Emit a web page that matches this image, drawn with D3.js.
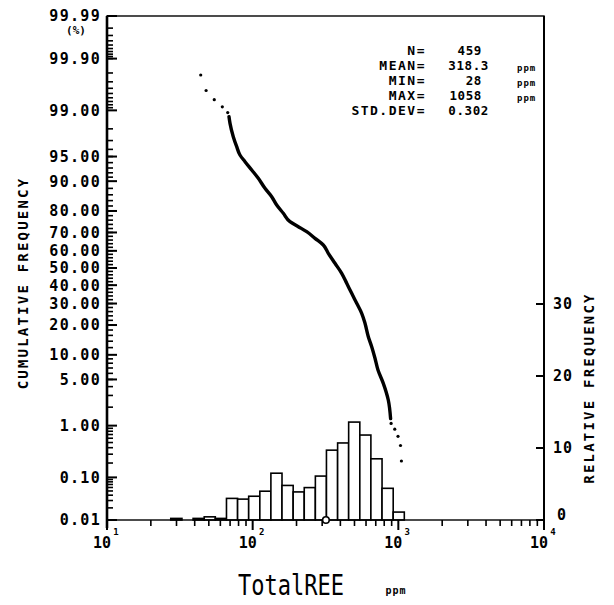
<!DOCTYPE html>
<html><head><meta charset="utf-8">
<script src="https://cdn.jsdelivr.net/npm/d3@7"></script>
<style>body{margin:0;background:#fff} svg{display:block}</style>
</head><body>
<svg id="c" width="614" height="605"></svg>
<script>
// ---------- data ----------
const binEdges = [27.4, 32.7, 39.0, 46.5, 55.4, 66.1, 78.8, 93.9, 112, 133.4, 159, 189.7, 226, 269.4, 321, 383, 456, 544, 648, 773, 922, 1099];
const relFreq  = [0.22, 0, 0.22, 0.44, 0.22, 3.0, 2.9, 3.3, 4.0, 6.5, 4.8, 3.9, 4.5, 6.1, 9.7, 10.7, 13.6, 11.8, 8.5, 4.4, 1.1];
const cumTailLow = [[44.0,99.78],[47.9,99.56],[54.5,99.35],[61.9,99.13],[67.4,98.91]];
const cumBody = [[68.8,98.72],[69.9,98.36],[73.6,97.37],[77.7,96.33],[81.8,95.23],[88.6,94.17],[98.5,92.6],[109.3,90.72],[121.5,88.02],[135.1,85.36],[146.2,82.38],[162.3,79.03],[180.4,75.28],[205.8,72.89],[234.9,70.39],[267.9,66.94],[305.4,63.29],[330.5,58.59],[367.4,52.77],[408.5,46.88],[442.2,41.07],[478.4,35.44],[517.9,30.12],[560.4,25.19],[590.4,20.72],[622.1,15.53],[656.4,12.27],[691.6,9.13],[725,6.61],[788.5,4.44],[853.1,2.57],[885,1.31]];
const cumTailHigh = [[892,1.09],[945,0.87],[995,0.65],[1035,0.44],[1050,0.22]];
const cumTicks = [0.01,0.1,1,5,10,20,30,40,50,60,70,80,90,95,99,99.9,99.99];
const cumTickLabels = ["0.01","0.10","1.00","5.00","10.00","20.00","30.00","40.00","50.00","60.00","70.00","80.00","90.00","95.00","99.00","99.90","99.99"];
const relTicks = [0,10,20,30];
const relTickLabels = ["0","10","20","30"];
const xDecades = [10,100,1000,10000];
const xDecadeExp = ["1","2","3","4"];
const statLabels = ["N=","MEAN=","MIN=","MAX=","STD.DEV="];
const statValues = ["459","318.3","28","1058","0.302"];
const statUnits  = ["","ppm","ppm","ppm",""];
const meanValue = 318.3;

// ---------- helpers ----------
function probit(p){
 const a=[-3.969683028665376e+01,2.209460984245205e+02,-2.759285104469687e+02,1.383577518672690e+02,-3.066479806614716e+01,2.506628277459239e+00];
 const b=[-5.447609879822406e+01,1.615858368580409e+02,-1.556989798598866e+02,6.680131188771972e+01,-1.328068155288572e+01];
 const c=[-7.784894002430293e-03,-3.223964580411365e-01,-2.400758277161838e+00,-2.549732539343734e+00,4.374664141464968e+00,2.938163982698783e+00];
 const d=[7.784695709041462e-03,3.224671290700398e-01,2.445134137142996e+00,3.754408661907416e+00];
 const pl=0.02425, ph=1-pl; let q,r;
 if(p<pl){q=Math.sqrt(-2*Math.log(p));return (((((c[0]*q+c[1])*q+c[2])*q+c[3])*q+c[4])*q+c[5])/((((d[0]*q+d[1])*q+d[2])*q+d[3])*q+1);}
 if(p<=ph){q=p-0.5;r=q*q;return (((((a[0]*r+a[1])*r+a[2])*r+a[3])*r+a[4])*r+a[5])*q/(((((b[0]*r+b[1])*r+b[2])*r+b[3])*r+b[4])*r+1);}
 q=Math.sqrt(-2*Math.log(1-p));return -(((((c[0]*q+c[1])*q+c[2])*q+c[3])*q+c[4])*q+c[5])/((((d[0]*q+d[1])*q+d[2])*q+d[3])*q+1);
}

const L=107, R=544, T=16, B=520;
const svg = d3.select("#c");
const x = d3.scaleLog().domain([10,10000]).range([L,R]);
const yZ = d3.scaleLinear().domain([probit(0.0001), probit(0.9999)]).range([B,T]);
const yCum = p => yZ(probit(p/100));
const yRel = d3.scaleLinear().domain([0,70]).range([B,T]);

const mono = "'DejaVu Sans Mono', 'Liberation Mono', monospace";

// ---------- histogram ----------
svg.append("g").selectAll("rect").data(relFreq.map((v,i)=>({v,x0:binEdges[i],x1:binEdges[i+1]})).filter(d=>d.v>0))
 .join("rect")
 .attr("x",d=>x(d.x0)).attr("width",d=>x(d.x1)-x(d.x0))
 .attr("y",d=>yRel(d.v)).attr("height",d=>B-yRel(d.v))
 .attr("fill","#fff").attr("stroke","#000").attr("stroke-width",1.6);

// ---------- frame ----------
svg.append("rect").attr("x",L).attr("y",T).attr("width",R-L).attr("height",B-T)
 .attr("fill","none").attr("stroke","#000").attr("stroke-width",1.4);
svg.append("line").attr("x1",L).attr("x2",L).attr("y1",T).attr("y2",B+8).attr("stroke","#000").attr("stroke-width",2.6);
svg.append("line").attr("x1",R).attr("x2",R).attr("y1",T).attr("y2",B+8).attr("stroke","#000").attr("stroke-width",2);

// ---------- left axis (probability) ----------
const minorCum = [].concat(
  d3.range(2,10).map(k=>k/100), d3.range(2,10).map(k=>k/10), d3.range(2,10),
  d3.range(12,90,2), d3.range(91,99), d3.range(1,10).map(k=>99+k/10), d3.range(1,10).map(k=>99.9+k/100));
const gl = svg.append("g");
gl.selectAll("rect.mi").data(minorCum).join("rect").attr("class","mi")
 .attr("x",L).attr("y",d=>yCum(d)-0.8).attr("width",6).attr("height",1.6).attr("fill","#000");
gl.selectAll("rect.ma").data(cumTicks).join("rect").attr("class","ma")
 .attr("x",L).attr("y",d=>yCum(d)-1).attr("width",10).attr("height",2).attr("fill","#000");
svg.append("g").selectAll("text").data(cumTicks).join("text")
 .attr("x",101).attr("y",d=>yCum(d)).attr("dy","0.36em").attr("text-anchor","end")
 .attr("font-family",mono).attr("font-weight","bold").attr("font-size",15).attr("letter-spacing",1.3)
 .text((d,i)=>cumTickLabels[i]);
svg.append("text").attr("x",76).attr("y",30).attr("dy","0.36em").attr("text-anchor","middle")
 .attr("font-family",mono).attr("font-weight","bold").attr("font-size",11).text("(%)");
svg.append("text").attr("transform","translate(28,283) rotate(-90)").attr("text-anchor","middle")
 .attr("font-family",mono).attr("font-weight","bold").attr("font-size",14).attr("letter-spacing",2.2)
 .text("CUMULATIVE FREQUENCY");

// ---------- right axis ----------
const gr = svg.append("g");
gr.selectAll("rect").data(relTicks).join("rect")
 .attr("x",R-8).attr("y",d=>yRel(d)-1).attr("width",8).attr("height",2).attr("fill","#000");
gr.selectAll("text").data(relTicks).join("text")
 .attr("x",d=>d===0?557:553).attr("y",d=>d===0?yRel(d)-5:yRel(d)).attr("dy","0.36em")
 .attr("font-family",mono).attr("font-weight","bold").attr("font-size",15).attr("letter-spacing",1)
 .text((d,i)=>relTickLabels[i]);
svg.append("text").attr("transform","translate(594,388) rotate(-90)").attr("text-anchor","middle")
 .attr("font-family",mono).attr("font-weight","bold").attr("font-size",14).attr("letter-spacing",2.2)
 .text("RELATIVE FREQUENCY");

// ---------- bottom axis ----------
const minorX = [];
[10,100,1000].forEach(dd=>{for(let k=2;k<=9;k++) minorX.push(dd*k);});
const gb = svg.append("g");
gb.selectAll("rect.mi").data(minorX).join("rect").attr("class","mi")
 .attr("x",d=>x(d)-0.8).attr("y",B).attr("width",1.6).attr("height",6).attr("fill","#000");
gb.selectAll("rect.ma").data(xDecades).join("rect").attr("class","ma")
 .attr("x",d=>x(d)-1).attr("y",B).attr("width",2).attr("height",10).attr("fill","#000");
const gbt = svg.append("g").attr("font-family",mono).attr("font-weight","bold");
gbt.selectAll("text.b").data(xDecades).join("text").attr("class","b")
 .attr("x",d=>x(d)-5).attr("y",543).attr("dy","0.36em").attr("text-anchor","middle")
 .attr("font-size",15).text("10");
gbt.selectAll("text.e").data(xDecades).join("text").attr("class","e")
 .attr("x",d=>x(d)+9).attr("y",532).attr("dy","0.36em").attr("text-anchor","middle")
 .attr("font-size",9).text((d,i)=>xDecadeExp[i]);
svg.append("text").attr("x",291).attr("y",585).attr("dy","0.36em").attr("text-anchor","middle")
 .attr("font-family",mono).attr("font-size",22).attr("transform","translate(0,-146) scale(1,1.25)")
 .text("TotalREE");
svg.append("text").attr("x",396).attr("y",590).attr("dy","0.36em").attr("text-anchor","middle")
 .attr("font-family",mono).attr("font-weight","bold").attr("font-size",10).attr("letter-spacing",1)
 .text("ppm");

// mean marker
svg.append("circle").attr("cx",x(meanValue)).attr("cy",B).attr("r",3.3)
 .attr("fill","#fff").attr("stroke","#000").attr("stroke-width",1.6);

// ---------- cumulative curve ----------
svg.append("path").datum(cumBody)
 .attr("d",d3.line().x(d=>x(d[0])).y(d=>yCum(d[1])).curve(d3.curveMonotoneY))
 .attr("fill","none").attr("stroke","#000").attr("stroke-width",3.4).attr("stroke-linecap","round");
svg.append("g").selectAll("circle").data(cumTailLow.concat(cumTailHigh)).join("circle")
 .attr("cx",d=>x(d[0])).attr("cy",d=>yCum(d[1])).attr("r",1.6).attr("fill","#000");

// ---------- stats ----------
const gs = svg.append("g").attr("font-family",mono).attr("font-weight","bold");
statLabels.forEach((s,i)=>{
  const yy = 50 + i*15;
  gs.append("text").attr("x",426).attr("y",yy).attr("dy","0.36em").attr("text-anchor","end")
    .attr("font-size",13).attr("letter-spacing",1.5).text(s);
  const isFloat = statValues[i].indexOf(".")>=0;
  gs.append("text").attr("x",isFloat?489:482).attr("y",yy).attr("dy","0.36em").attr("text-anchor","end")
    .attr("font-size",12.5).attr("letter-spacing",0.6).text(statValues[i]);
  if(statUnits[i]) gs.append("text").attr("x",517).attr("y",yy+3).attr("dy","0.36em")
    .attr("font-size",9).attr("letter-spacing",1).text(statUnits[i]);
});
</script>
</body></html>
